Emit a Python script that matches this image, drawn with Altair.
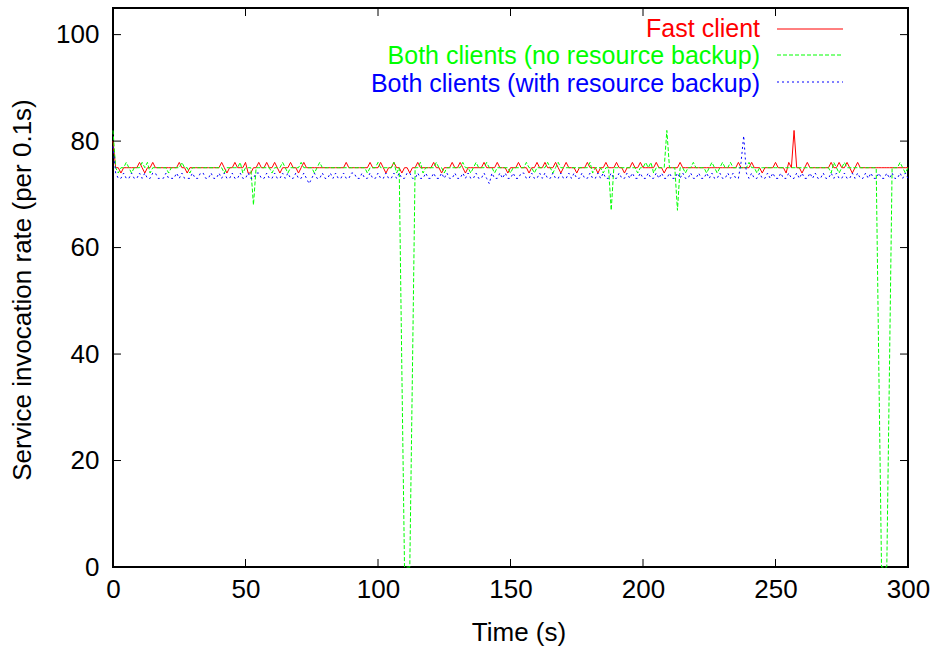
import altair as alt
import pandas as pd

time_s = list(range(0, 301))

fast_client = [
    80,75,75,74,75,75,75,75,75,75,76,75,74,75,75,76,75,75,75,75,
    75,75,75,75,75,76,75,75,74,75,75,75,75,75,75,75,75,75,75,75,
    75,76,75,74,75,75,76,75,75,75,76,74,74,75,75,76,75,75,76,75,
    75,76,75,74,75,75,75,76,75,75,74,75,76,75,75,75,75,75,75,75,
    75,75,75,75,75,75,75,75,76,75,75,75,75,75,75,75,75,76,75,75,
    75,76,75,74,75,75,76,75,75,74,75,75,74,75,75,76,75,75,75,75,
    75,76,75,75,74,75,75,75,76,75,75,76,75,74,75,75,75,75,75,75,
    76,75,75,75,75,76,75,75,75,74,75,75,75,76,75,75,75,74,75,75,
    76,75,75,76,75,75,75,76,75,74,75,76,75,75,75,74,75,75,75,76,
    75,75,75,74,75,75,76,75,75,75,76,75,75,74,75,75,76,75,75,76,
    75,75,75,75,75,76,75,75,74,75,75,75,75,75,76,75,75,75,75,75,
    75,75,75,75,75,75,75,75,75,75,75,75,75,75,75,75,76,75,75,75,
    75,76,75,75,75,74,75,75,75,75,76,75,75,75,74,76,75,82,75,75,
    74,75,76,75,75,75,75,75,75,75,75,76,75,75,76,75,75,76,75,74,
    75,76,75,75,75,75,75,75,75,75,75,75,75,75,75,75,75,75,75,75,
    75,
]

both_no_backup = [
    82,75,74,75,75,76,75,74,75,75,75,76,75,76,74,75,75,75,75,75,
    75,74,75,75,75,75,76,75,75,74,75,75,75,75,75,75,75,75,75,75,
    75,75,74,75,75,75,75,75,76,74,75,75,75,68,75,75,75,75,75,75,
    74,75,75,75,76,75,74,75,75,75,75,76,75,75,75,75,74,75,76,75,
    75,75,75,75,75,75,75,75,75,75,75,75,75,75,75,75,74,75,75,75,
    76,75,75,75,75,75,76,74,75,37,0,0,0,37,75,75,76,74,75,75,
    75,75,76,75,75,74,75,75,75,75,75,75,76,75,75,74,75,76,75,75,
    75,76,75,75,74,75,75,75,75,75,74,75,75,75,75,75,76,75,75,74,
    75,75,75,75,76,75,74,75,76,75,75,75,75,75,75,75,75,75,75,75,
    76,74,75,75,75,74,75,75,67,75,75,75,75,75,75,75,75,75,74,75,
    75,76,75,76,74,75,75,75,75,82,75,75,75,67,75,75,74,75,75,76,
    75,75,75,75,74,75,76,75,74,75,76,75,75,76,75,75,75,75,75,75,
    76,75,75,74,75,75,75,75,75,75,75,75,75,75,75,75,75,75,75,75,
    75,75,75,75,75,75,75,75,75,75,75,74,76,75,74,75,76,75,75,75,
    75,75,75,75,75,75,75,75,75,37,0,0,0,37,75,75,75,76,75,74,
    75,
]

both_with_backup = [
    79,74,73,73,74,73,73,74,73,73,74,73,74,73,73,74,74,73,73,73,
    74,73,73,73,74,73,74,73,73,73,74,73,73,74,74,73,73,74,73,73,
    74,73,74,73,73,74,73,73,74,73,73,74,73,73,74,74,73,73,74,73,
    73,74,73,73,74,73,74,73,73,74,73,73,74,73,72,73,74,73,73,74,
    73,73,74,73,74,73,73,74,73,73,74,74,73,73,74,73,73,74,73,73,
    74,73,73,74,73,73,74,73,74,73,73,74,74,73,73,74,73,73,74,73,
    73,74,73,73,74,73,74,73,73,74,73,73,74,73,74,73,73,74,73,73,
    74,73,72,74,73,73,74,73,74,73,73,74,73,73,74,74,73,73,74,73,
    73,74,73,74,73,73,74,73,73,74,73,73,74,73,74,73,73,74,73,73,
    74,73,73,74,73,74,73,73,74,73,73,74,73,73,74,73,74,73,73,74,
    73,73,74,73,73,74,73,74,73,73,74,73,73,74,73,74,73,73,74,73,
    73,74,73,73,74,73,74,73,73,74,73,73,74,73,74,73,73,76,81,74,
    73,74,73,73,74,73,73,74,73,74,73,73,74,73,73,74,73,73,74,73,
    74,73,73,74,73,74,73,73,74,73,73,74,73,74,73,73,74,73,73,74,
    73,74,73,73,74,73,74,73,73,74,73,73,74,73,74,73,73,74,73,74,
    73,
]

series_names = [
    "Fast client",
    "Both clients (no resource backup)",
    "Both clients (with resource backup)",
]
series_colors = ["#ff0000", "#00ff00", "#0000ff"]
x_ticks = [0, 50, 100, 150, 200, 250, 300]
y_ticks = [0, 20, 40, 60, 80, 100]

FONT = "Liberation Sans"
LABEL_FS = 26
TITLE_FS = 26
LEGEND_FS = 25
W, H = 795, 559
TICK = 8

xs = alt.Scale(domain=[0, 300], nice=False, zero=False)
ys = alt.Scale(domain=[0, 105], nice=False)

x_axis = alt.Axis(values=x_ticks, tickSize=0, domain=False, grid=False,
                  labelFlush=False, labelOverlap=False,
                  labelFont=FONT, labelFontSize=LABEL_FS, labelColor="black",
                  labelPadding=9, title="Time (s)", titleFont=FONT,
                  titleFontSize=TITLE_FS, titleFontWeight="normal",
                  titleColor="black",
                  titleX=W / 2 + 8, titleY=65, titleBaseline="middle",
                  titleAlign="center")
y_axis = alt.Axis(values=y_ticks, tickSize=0, domain=False, grid=False,
                  labelFlush=False, labelOverlap=False,
                  labelFont=FONT, labelFontSize=LABEL_FS, labelColor="black",
                  labelPadding=14, title="Service invocation rate (per 0.1s)",
                  titleFont=FONT, titleFontSize=TITLE_FS,
                  titleFontWeight="normal",
                  titleColor="black", titleX=-91, titleY=H / 2 + 2,
                  titleBaseline="middle", titleAlign="center", titleAngle=-90)

dash = [None, [4, 2], [2, 3]]
lines = []
for name, vals, col, d in zip(series_names,
                              [fast_client, both_no_backup, both_with_backup],
                              series_colors, dash):
    df = pd.DataFrame({"t": time_s, "v": vals})
    kw = dict(color=col, strokeWidth=1)
    if d:
        kw["strokeDash"] = d
    lines.append(
        alt.Chart(df).mark_line(**kw).encode(
            x=alt.X("t:Q", scale=xs, axis=x_axis),
            y=alt.Y("v:Q", scale=ys, axis=y_axis),
        )
    )

xt = pd.DataFrame({"t": x_ticks})
yt = pd.DataFrame({"v": y_ticks})
tick_layers = [
    alt.Chart(xt).mark_rule(color="black", strokeWidth=1).encode(
        x=alt.X("t:Q", scale=xs), y=alt.value(H), y2=alt.value(H - TICK)),
    alt.Chart(xt).mark_rule(color="black", strokeWidth=1).encode(
        x=alt.X("t:Q", scale=xs), y=alt.value(0), y2=alt.value(TICK)),
    alt.Chart(yt).mark_rule(color="black", strokeWidth=1).encode(
        y=alt.Y("v:Q", scale=ys), x=alt.value(0), x2=alt.value(TICK)),
    alt.Chart(yt).mark_rule(color="black", strokeWidth=1).encode(
        y=alt.Y("v:Q", scale=ys), x=alt.value(W), x2=alt.value(W - TICK)),
]

legend_layers = []
leg_text_y = [21, 48, 76]
leg_line_y = [21, 47, 74]
for i, (name, col, d) in enumerate(zip(series_names, series_colors, dash)):
    one = pd.DataFrame({"label": [name]})
    legend_layers.append(
        alt.Chart(one).mark_text(align="right", baseline="middle", font=FONT,
                                 fontSize=LEGEND_FS, color=col).encode(
            text="label:N", x=alt.value(647), y=alt.value(leg_text_y[i]))
    )
    kw = dict(color=col, strokeWidth=1)
    if d:
        kw["strokeDash"] = d
    legend_layers.append(
        alt.Chart(one).mark_rule(**kw).encode(
            x=alt.value(664), x2=alt.value(730), y=alt.value(leg_line_y[i]))
    )

chart = alt.layer(*lines, *tick_layers, *legend_layers).properties(
    width=W, height=H,
    autosize=alt.AutoSizeParams(type="none"),
    padding={"left": 113, "top": 8, "right": 28, "bottom": 84},
    background="white",
).configure_view(stroke="black", strokeWidth=2)

chart.save("out.html", embed_options={"renderer": "svg", "actions": False})
